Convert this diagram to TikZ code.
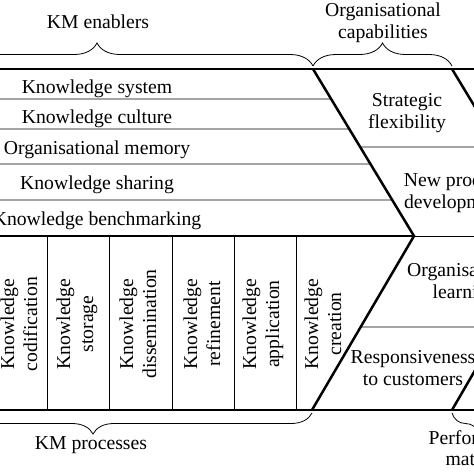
\documentclass[tikz,border=0pt]{standalone}
\usepackage{fontspec}
\setmainfont{Liberation Serif}
\usetikzlibrary{decorations.pathreplacing}

\begin{document}
\begin{tikzpicture}[x=1pt,y=-1pt,
        thickline/.style={line width=2.5pt},
        thinline/.style={line width=0.8pt},
        kmbrace/.style={decorate,decoration={brace,amplitude=#1},line width=0.8pt},
        lbl/.style={font=\fontsize{19.7}{21.6}\selectfont,inner sep=0pt,align=center},
        vlbl/.style={lbl,rotate=90,font=\fontsize{19.7}{23}\selectfont}]
        \useasboundingbox(0,0)rectangle(474,474);
        \clip(0,0)rectangle(474,474);
        % 折线端点
        \coordinate(t1)at(313,69);\coordinate(p1)at(414,236);\coordinate(b1)at(312,410);
        \coordinate(t2)at(452,69);\coordinate(p2)at(553,236);\coordinate(b2)at(452,410);
        % 粗线
        \draw[thickline](-20,69)--(490,69);
        \draw[thickline](-20,410)--(490,410);
        \draw[thickline](-20,236)--(p1);
        \draw[thickline](t1)--(p1)--(b1);
        \draw[thickline](t2)--(p2)--(b2);
        % 细线
        \foreach \y in {99,129,164,200}
            \draw[thinline](-20,\y)--(intersection of t1--p1 and 0,\y--474,\y);
        \draw[thinline](intersection of t1--p1 and 0,147--474,147)--(490,147);
        \draw[thinline](p1)--(p2);
        \draw[thinline](intersection of p1--b1 and 0,327--474,327)--(490,327);
        \foreach \x in {47,109,172,234,296}
            \draw[thinline](\x,236)--(\x,410);
        % 括号
        \draw[kmbrace=23pt](-119,66)--(313,66);
        \draw[kmbrace=23pt](313,66)--(452,66);
        \draw[kmbrace=21pt](312,413)--(-126,413);
        \draw[kmbrace=21pt](506,413)--(452,413);
        % 标签
        \node[lbl](enablers)at(98,22){KM enablers};
        \node[lbl](capab)at(383,23){Organisational\\capabilities};
        \node[lbl](processes)at(91,445.5){KM processes};
        \node[lbl](perf)at(479,450){Performance\\maturity};
        \node[lbl,anchor=base](ksys)at(97,93){Knowledge system};
        \node[lbl,anchor=base](kcul)at(97,123){Knowledge culture};
        \node[lbl,anchor=base](omem)at(97,154){Organisational memory};
        \node[lbl,anchor=base](kshr)at(97,189){Knowledge sharing};
        \node[lbl,anchor=base](kben)at(97,225){Knowledge benchmarking};
        \node[vlbl](kcod)at(19,324){Knowledge\\codification};
        \node[vlbl](ksto)at(77,324){Knowledge\\storage};
        \node[vlbl](kdis)at(138,324){Knowledge\\dissemination};
        \node[vlbl](kref)at(202,324){Knowledge\\refinement};
        \node[vlbl](kapp)at(263,324){Knowledge\\application};
        \node[vlbl](kcre)at(323,324){Knowledge\\creation};
        \node[lbl](sflex)at(407,113){Strategic\\flexibility};
        \node[lbl](npd)at(455,193){New product\\development};
        \node[lbl](olearn)at(465,283){Organisational\\learning};
        \node[lbl](resp)at(413,368){Responsiveness\\to customers};
    \end{tikzpicture}
\end{document}
